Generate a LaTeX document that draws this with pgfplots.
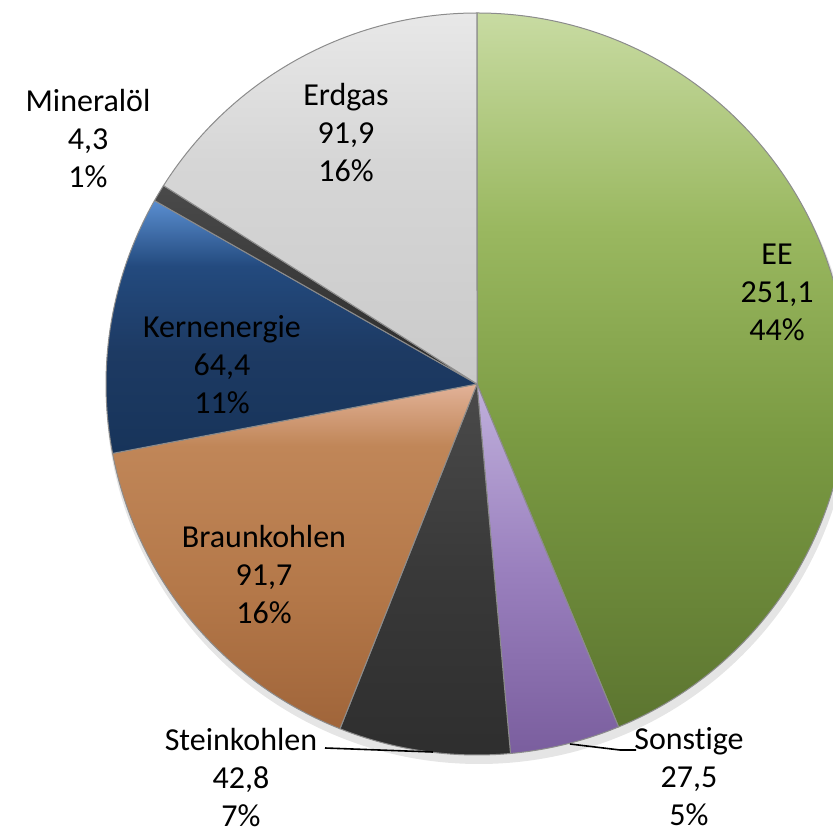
\documentclass[border=0pt]{standalone}
\usepackage{fontspec}
\setmainfont[Ligatures=NoCommon]{Carlito}
\usepackage{pgfplots}
\usepackage{pgfplotstable}
\pgfplotsset{compat=1.18}

% slice gradients, in table order (bottom -> top, 25bp..75bp is the slice's box)
\pgfdeclareverticalshading{pieS0}{100bp}{color(0bp)=(rgb,255:red,92;green,117;blue,48); color(25bp)=(rgb,255:red,92;green,117;blue,48);
    color(45bp)=(rgb,255:red,122;green,154;blue,66); color(60bp)=(rgb,255:red,154;green,184;blue,96);
    color(75bp)=(rgb,255:red,200;green,219;blue,162); color(100bp)=(rgb,255:red,200;green,219;blue,162)}
\pgfdeclareverticalshading{pieS1}{100bp}{color(0bp)=(rgb,255:red,122;green,94;blue,158); color(25bp)=(rgb,255:red,122;green,94;blue,158);
    color(50bp)=(rgb,255:red,154;green,128;blue,190);
    color(75bp)=(rgb,255:red,192;green,176;blue,220); color(100bp)=(rgb,255:red,192;green,176;blue,220)}
\pgfdeclareverticalshading{pieS2}{100bp}{color(0bp)=(rgb,255:red,46;green,46;blue,46); color(25bp)=(rgb,255:red,46;green,46;blue,46);
    color(50bp)=(rgb,255:red,57;green,57;blue,57);
    color(75bp)=(rgb,255:red,74;green,74;blue,74); color(100bp)=(rgb,255:red,74;green,74;blue,74)}
\pgfdeclareverticalshading{pieS3}{100bp}{color(0bp)=(rgb,255:red,160;green,101;blue,58); color(25bp)=(rgb,255:red,160;green,101;blue,58);
    color(45bp)=(rgb,255:red,180;green,120;blue,73); color(66bp)=(rgb,255:red,192;green,134;blue,88);
    color(75bp)=(rgb,255:red,226;green,178;blue,152); color(100bp)=(rgb,255:red,226;green,178;blue,152)}
\pgfdeclareverticalshading{pieS4}{100bp}{color(0bp)=(rgb,255:red,23;green,52;blue,90); color(25bp)=(rgb,255:red,23;green,52;blue,90);
    color(45bp)=(rgb,255:red,29;green,58;blue,99); color(62bp)=(rgb,255:red,35;green,74;blue,126);
    color(75bp)=(rgb,255:red,90;green,142;blue,208); color(100bp)=(rgb,255:red,90;green,142;blue,208)}
\pgfdeclareverticalshading{pieS5}{100bp}{color(0bp)=(rgb,255:red,42;green,42;blue,42); color(25bp)=(rgb,255:red,42;green,42;blue,42);
    color(75bp)=(rgb,255:red,74;green,74;blue,74); color(100bp)=(rgb,255:red,74;green,74;blue,74)}
\pgfdeclareverticalshading{pieS6}{100bp}{color(0bp)=(rgb,255:red,202;green,202;blue,202); color(25bp)=(rgb,255:red,202;green,202;blue,202);
    color(55bp)=(rgb,255:red,214;green,214;blue,214);
    color(75bp)=(rgb,255:red,232;green,232;blue,232); color(100bp)=(rgb,255:red,232;green,232;blue,232)}

% value, label position (px from bottom left)
\pgfplotstableread{
name        value  lx   ly
EE          251.1  777  542
Sonstige    27.5   689  57
Steinkohlen 42.8   241  56
Braunkohlen 91.7   264  259
Kernenergie 64.4   222  469
Mineralöl   4.3    88   695
Erdgas      91.9   346  701
}\piedata

\def\pcx{477}
\def\pcy{450}
\def\pr{371}

\begin{document}
\begin{tikzpicture}
    \path[use as bounding box] (0,0) rectangle (416.5pt,417pt);
    \clip (0,0) rectangle (416.5pt,417pt);

    % sum and angles, clockwise from the top
    \pgfplotstablegetrowsof{\piedata}
    \pgfmathtruncatemacro\nrows{\pgfplotsretval-1}
    \gdef\pietotal{0}
    \foreach \i in {0,...,\nrows}{
        \pgfplotstablegetelem{\i}{value}\of\piedata
        \pgfmathsetmacro\t{\pietotal+\pgfplotsretval}
        \xdef\pietotal{\t}
    }
    \gdef\piecur{90}
    \foreach \i in {0,...,\nrows}{
        \pgfplotstablegetelem{\i}{value}\of\piedata
        \let\val\pgfplotsretval
        \pgfmathsetmacro\frac{\val/\pietotal}
        \pgfmathsetmacro\a{\piecur}
        \pgfmathsetmacro\b{\piecur-360*\frac}
        \pgfmathsetmacro\sx{\pcx+\pr*cos(\a)}
        \pgfmathsetmacro\sy{\pcy+\pr*sin(\a)}
        \pgfmathtruncatemacro\pct{round(100*\frac)}
        \pgfmathprintnumberto[fixed, fixed zerofill, precision=1, use comma, assume math mode=true]{\val}\valstr
        \pgfplotstablegetelem{\i}{name}\of\piedata
        \let\nm\pgfplotsretval
        \expandafter\xdef\csname pieSa\i\endcsname{\a}
        \expandafter\xdef\csname pieEa\i\endcsname{\b}
        \expandafter\xdef\csname pieX\i\endcsname{\sx}
        \expandafter\xdef\csname pieY\i\endcsname{\sy}
        \expandafter\xdef\csname pieL\i\endcsname{\nm\noexpand\\\valstr\noexpand\\\pct\noexpand\%}
        \pgfplotstablegetelem{\i}{lx}\of\piedata
        \expandafter\xdef\csname pieLx\i\endcsname{\pgfplotsretval}
        \pgfplotstablegetelem{\i}{ly}\of\piedata
        \expandafter\xdef\csname pieLy\i\endcsname{\pgfplotsretval}
        \xdef\piecur{\b}
    }

    \begin{axis}[
            at={(0,0)}, anchor=south west,
            x=0.5pt, y=0.5pt,
            xmin=0, xmax=833, ymin=0, ymax=834,
            hide axis,
            clip=false
        ]

        % soft shadow
        \fill[black, opacity=0.10] (axis cs:\pcx+2,\pcy-7) circle[radius=\pr+2];

        \pgfplotsinvokeforeach{0,...,6}{
            \path[draw=black!45, line width=0.5pt, shading=pieS#1]
                (axis cs:\pcx,\pcy)
                -- (axis cs:\csname pieX#1\endcsname,\csname pieY#1\endcsname)
                arc[start angle=\csname pieSa#1\endcsname,
                    end angle=\csname pieEa#1\endcsname, radius=\pr]
                -- cycle;
        }

        \pgfplotsinvokeforeach{0,...,6}{
            \node[align=center, font=\fontsize{16}{19}\selectfont, inner sep=0pt]
                at (axis cs:\csname pieLx#1\endcsname,\csname pieLy#1\endcsname)
                {\csname pieL#1\endcsname};
        }

        % leader lines
        \draw[black, line width=0.8pt] (axis cs:325,86) -- (axis cs:433,82);
        \draw[black, line width=0.8pt] (axis cs:570,90) -- (axis cs:620,84) -- (axis cs:636,84);
    \end{axis}
\end{tikzpicture}
\end{document}
